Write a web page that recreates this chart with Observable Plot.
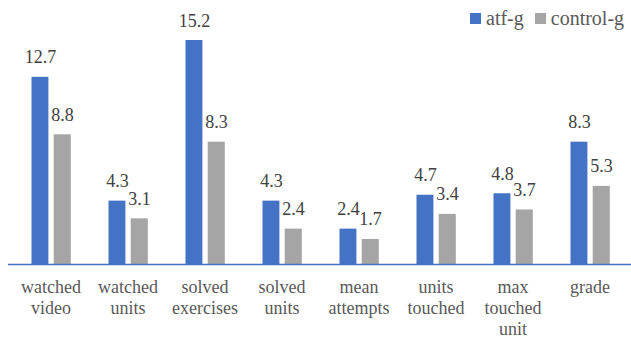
<!DOCTYPE html>
<html><head><meta charset="utf-8">
<script src="https://cdn.jsdelivr.net/npm/d3@7"></script>
<script src="https://cdn.jsdelivr.net/npm/@observablehq/plot@0.6"></script>
<style>
body{margin:0;background:#fff;}
#wrap{position:relative;width:631px;height:339px;font-family:"Liberation Serif",serif;color:#595959;}
#legend{position:absolute;top:6px;left:470px;font-size:20px;line-height:24px;display:flex;align-items:center;white-space:nowrap;font-family:"Liberation Serif",serif;}
#legend span.sw{display:inline-block;width:11px;height:11px;margin-right:5px;}
#legend span.it{display:inline-flex;align-items:center;margin-right:11px;}
</style></head>
<body><div id="wrap"><div id="legend"></div></div>
<script>
const categories = ["watched video","watched units","solved exercises","solved units","mean attempts","units touched","max touched unit","grade"];
const tickLabels = ["watched\nvideo","watched\nunits","solved\nexercises","solved\nunits","mean\nattempts","units\ntouched","max\ntouched\nunit","grade"];
const series = ["atf-g","control-g"];
const atfValues = [12.7,4.3,15.2,4.3,2.4,4.7,4.8,8.3];
const controlValues = [8.8,3.1,8.3,2.4,1.7,3.4,3.7,5.3];
const colors = ["#4472C4","#A5A5A5"];

const atf = categories.map((c,i)=>({category:c, value:atfValues[i]}));
const ctl = categories.map((c,i)=>({category:c, value:controlValues[i]}));
const labelOf = new Map(categories.map((c,i)=>[c,tickLabels[i]]));

const chart = Plot.plot({
  width:631, height:339,
  marginLeft:8, marginRight:0, marginTop:0, marginBottom:75,
  style:{fontFamily:"Liberation Serif, serif", background:"transparent", color:"#595959"},
  x:{domain:categories, padding:0, range:[8,631]},
  y:{domain:[0,15.2], range:[264,40], axis:null},
  marks:[
    Plot.barY(atf,{x:"category", y:"value", fill:colors[0], insetLeft:19.5, insetRight:40.6}),
    Plot.barY(ctl,{x:"category", y:"value", fill:colors[1], insetLeft:41.7, insetRight:18.2}),
    Plot.text(atf,{x:"category", y:"value", text:d=>d.value.toFixed(1), dx:-10.5, dy:-14, lineAnchor:"bottom", fontSize:18, fill:"#404040"}),
    Plot.text(ctl,{x:"category", y:"value", text:d=>d.value.toFixed(1), dx:11.5, dy:-14, lineAnchor:"bottom", fontSize:18, fill:"#404040"}),
    Plot.ruleY([0],{stroke:"#4472C4", strokeWidth:1.5}),
    Plot.axisX({tickSize:0, tickPadding:14, fontSize:18, lineHeight:1.16, tickFormat:d=>labelOf.get(d), label:null, fill:"#595959"})
  ]
});
document.getElementById("wrap").appendChild(chart);
const lg = document.getElementById("legend");
series.forEach((s,i)=>{
  const it=document.createElement("span"); it.className="it";
  const sw=document.createElement("span"); sw.className="sw"; sw.style.background=colors[i];
  it.appendChild(sw); it.appendChild(document.createTextNode(s)); lg.appendChild(it);
});
</script></body></html>
